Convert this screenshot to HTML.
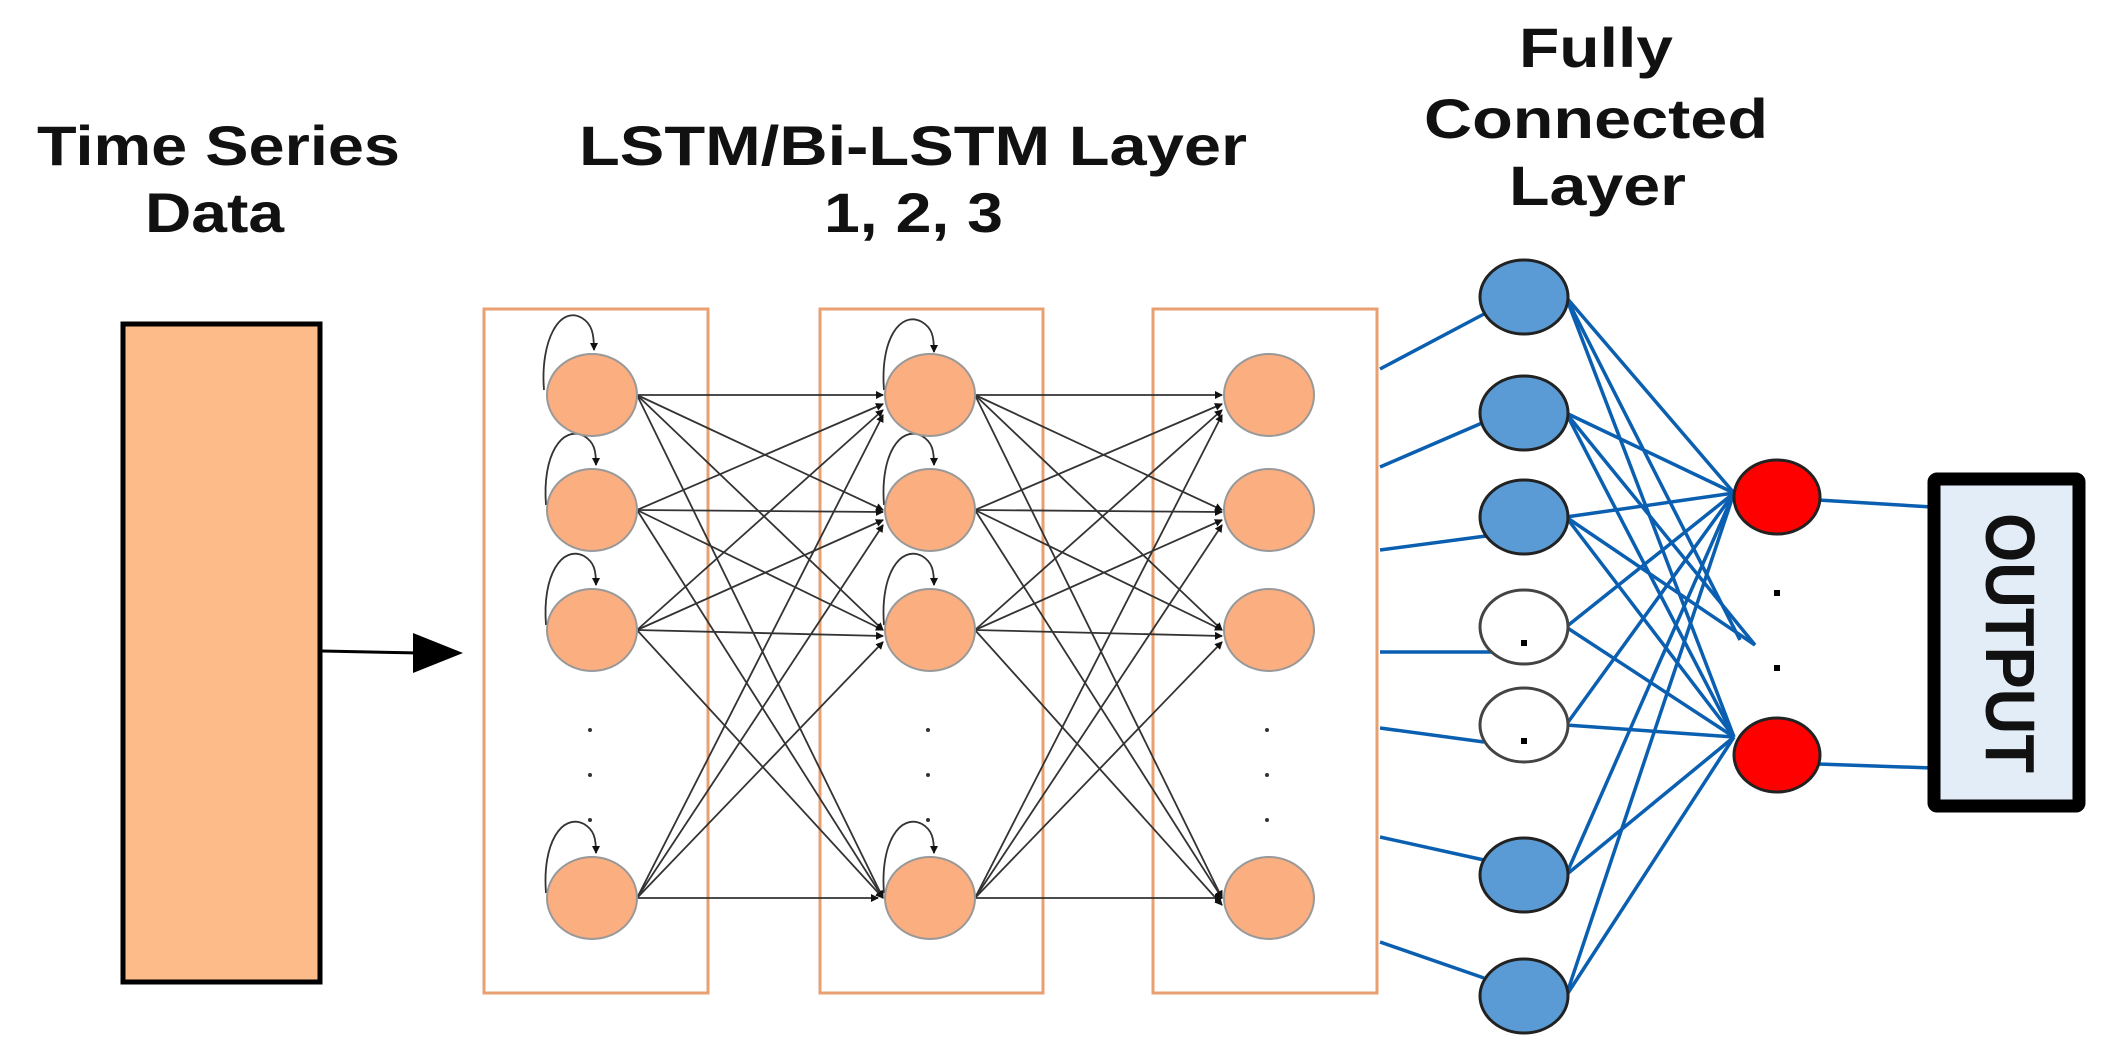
<!DOCTYPE html>
<html><head><meta charset="utf-8"><style>html,body{margin:0;padding:0;background:#fff}svg{display:block}</style></head>
<body>
<svg width="2110" height="1059" viewBox="0 0 2110 1059" xmlns="http://www.w3.org/2000/svg">
<defs>
<marker id="ah" markerWidth="8" markerHeight="8" refX="7" refY="4" orient="auto" markerUnits="userSpaceOnUse"><path d="M0,0 L8,4 L0,8 z" fill="#111"/></marker>
</defs>
<g font-family="Liberation Sans, Arial, sans-serif" font-weight="bold" fill="#111" font-size="56">
<text x="37" y="165" textLength="363" lengthAdjust="spacingAndGlyphs">Time Series</text>
<text x="145" y="232" textLength="139" lengthAdjust="spacingAndGlyphs">Data</text>
<text x="579" y="165" textLength="668" lengthAdjust="spacingAndGlyphs">LSTM/Bi-LSTM Layer</text>
<text x="824" y="232" textLength="179" lengthAdjust="spacingAndGlyphs">1, 2, 3</text>
<text x="1519" y="67" textLength="154" lengthAdjust="spacingAndGlyphs">Fully</text>
<text x="1424" y="138" textLength="344" lengthAdjust="spacingAndGlyphs">Connected</text>
<text x="1509" y="205" textLength="177" lengthAdjust="spacingAndGlyphs">Layer</text>
</g>
<!-- input -->
<rect x="123" y="324" width="197" height="658" fill="#fdbb8a" stroke="#000" stroke-width="5"/>
<line x1="322" y1="651" x2="420" y2="653" stroke="#000" stroke-width="3"/>
<polygon points="413,633 463,653 413,673" fill="#000"/>
<!-- LSTM boxes -->
<g fill="none" stroke="#e8a070" stroke-width="3">
<rect x="484" y="309" width="224" height="684"/>
<rect x="820" y="309" width="223" height="684"/>
<rect x="1153" y="309" width="224" height="684"/>
</g>
<!-- connections -->
<g stroke="#333" stroke-width="1.8" marker-end="url(#ah)">
<line x1="637" y1="395" x2="883" y2="395"/><line x1="637" y1="395" x2="883" y2="510"/><line x1="637" y1="395" x2="883" y2="630"/><line x1="637" y1="395" x2="883" y2="898"/>
<line x1="637" y1="510" x2="883" y2="404"/><line x1="637" y1="510" x2="883" y2="512"/><line x1="637" y1="510" x2="883" y2="630"/><line x1="637" y1="510" x2="883" y2="898"/>
<line x1="637" y1="630" x2="883" y2="410"/><line x1="637" y1="630" x2="883" y2="520"/><line x1="637" y1="630" x2="883" y2="636"/><line x1="637" y1="630" x2="883" y2="898"/>
<line x1="637" y1="898" x2="883" y2="415"/><line x1="637" y1="898" x2="883" y2="525"/><line x1="637" y1="898" x2="883" y2="642"/><line x1="637" y1="898" x2="878" y2="898"/>
<line x1="975" y1="395" x2="1222" y2="395"/><line x1="975" y1="395" x2="1222" y2="510"/><line x1="975" y1="395" x2="1222" y2="630"/><line x1="975" y1="395" x2="1222" y2="898"/>
<line x1="975" y1="510" x2="1222" y2="404"/><line x1="975" y1="510" x2="1222" y2="512"/><line x1="975" y1="510" x2="1222" y2="630"/><line x1="975" y1="510" x2="1222" y2="898"/>
<line x1="975" y1="630" x2="1222" y2="410"/><line x1="975" y1="630" x2="1222" y2="520"/><line x1="975" y1="630" x2="1222" y2="636"/><line x1="975" y1="630" x2="1222" y2="905"/>
<line x1="975" y1="898" x2="1222" y2="415"/><line x1="975" y1="898" x2="1222" y2="525"/><line x1="975" y1="898" x2="1222" y2="642"/><line x1="975" y1="898" x2="1222" y2="898"/>
</g>
<g fill="none" stroke="#333" stroke-width="1.8" marker-end="url(#ah)">
<path d="M544,390 C540,340 560,305 582,318 C592,324 594,334 594,350"/>
<path d="M546,505 C542,455 562,425 584,436 C594,442 596,450 596,465"/>
<path d="M546,625 C542,575 562,545 584,556 C594,562 596,570 596,585"/>
<path d="M546,893 C542,843 562,813 584,824 C594,830 596,838 596,853"/>
<path d="M884,390 C880,340 900,310 922,322 C932,328 934,336 934,352"/>
<path d="M884,505 C880,455 900,425 922,436 C932,442 934,450 934,465"/>
<path d="M884,625 C880,575 900,545 922,556 C932,562 934,570 934,585"/>
<path d="M884,893 C880,843 900,813 922,824 C932,830 934,838 934,853"/>
</g>
<!-- LSTM nodes -->
<g fill="#fbae7f" stroke="#999" stroke-width="2">
<ellipse cx="592" cy="395" rx="45" ry="41"/><ellipse cx="592" cy="510" rx="45" ry="41"/><ellipse cx="592" cy="630" rx="45" ry="41"/><ellipse cx="592" cy="898" rx="45" ry="41"/>
<ellipse cx="930" cy="395" rx="45" ry="41"/><ellipse cx="930" cy="510" rx="45" ry="41"/><ellipse cx="930" cy="630" rx="45" ry="41"/><ellipse cx="930" cy="898" rx="45" ry="41"/>
<ellipse cx="1269" cy="395" rx="45" ry="41"/><ellipse cx="1269" cy="510" rx="45" ry="41"/><ellipse cx="1269" cy="630" rx="45" ry="41"/><ellipse cx="1269" cy="898" rx="45" ry="41"/>
</g>
<g fill="#333">
<circle cx="590" cy="730" r="2"/><circle cx="590" cy="775" r="2"/><circle cx="590" cy="820" r="2"/>
<circle cx="928" cy="730" r="2"/><circle cx="928" cy="775" r="2"/><circle cx="928" cy="820" r="2"/>
<circle cx="1267" cy="730" r="2"/><circle cx="1267" cy="775" r="2"/><circle cx="1267" cy="820" r="2"/>
</g>
<!-- FC lines -->
<g stroke="#0a5fb0" stroke-width="3.5" fill="none">
<line x1="1380" y1="369" x2="1484" y2="314"/>
<line x1="1380" y1="467" x2="1482" y2="423"/>
<line x1="1380" y1="550" x2="1486" y2="536"/>
<line x1="1380" y1="652" x2="1492" y2="652"/>
<line x1="1380" y1="728" x2="1484" y2="742"/>
<line x1="1380" y1="837" x2="1484" y2="860"/>
<line x1="1380" y1="942" x2="1484" y2="978"/>
<g id="fc">
<line x1="1566" y1="297" x2="1734" y2="493"/><line x1="1566" y1="297" x2="1734" y2="737"/>
<line x1="1566" y1="413" x2="1734" y2="493"/><line x1="1566" y1="413" x2="1734" y2="737"/>
<line x1="1566" y1="517" x2="1734" y2="493"/><line x1="1566" y1="517" x2="1734" y2="737"/>
<line x1="1566" y1="627" x2="1734" y2="493"/><line x1="1566" y1="627" x2="1734" y2="737"/>
<line x1="1566" y1="725" x2="1734" y2="493"/><line x1="1566" y1="725" x2="1734" y2="737"/>
<line x1="1566" y1="875" x2="1734" y2="493"/><line x1="1566" y1="875" x2="1734" y2="737"/>
<line x1="1566" y1="996" x2="1734" y2="493"/><line x1="1566" y1="996" x2="1734" y2="737"/>
<line x1="1566" y1="297" x2="1740" y2="640"/><line x1="1566" y1="413" x2="1755" y2="645"/><line x1="1566" y1="517" x2="1755" y2="645"/>
</g>
<line x1="1818" y1="500" x2="1932" y2="507"/>
<line x1="1818" y1="764" x2="1932" y2="768"/>
</g>
<!-- FC nodes -->
<g stroke="#222" stroke-width="3">
<ellipse cx="1524" cy="297" rx="44" ry="37" fill="#5b9bd5"/>
<ellipse cx="1524" cy="413" rx="44" ry="37" fill="#5b9bd5"/>
<ellipse cx="1524" cy="517" rx="44" ry="37" fill="#5b9bd5"/>
<ellipse cx="1524" cy="627" rx="44" ry="37" fill="#fff" stroke="#444"/>
<ellipse cx="1524" cy="725" rx="44" ry="37" fill="#fff" stroke="#444"/>
<ellipse cx="1524" cy="875" rx="44" ry="37" fill="#5b9bd5"/>
<ellipse cx="1524" cy="996" rx="44" ry="37" fill="#5b9bd5"/>
<ellipse cx="1777" cy="497" rx="43" ry="37" fill="#f00"/>
<ellipse cx="1777" cy="755" rx="43" ry="37" fill="#f00"/>
</g>
<g fill="#000">
<rect x="1521" y="640" width="6" height="6"/><rect x="1521" y="738" width="6" height="6"/>
<rect x="1774" y="590" width="6" height="6"/><rect x="1774" y="665" width="6" height="6"/>
</g>
<!-- output -->
<rect x="1934" y="479" width="145" height="327" rx="3" fill="#e3edf8" stroke="#000" stroke-width="13"/>
<text x="0" y="0" transform="translate(1986,643) rotate(90)" text-anchor="middle" font-family="Liberation Sans, Arial, sans-serif" font-weight="bold" font-size="70" fill="#111" textLength="260" lengthAdjust="spacingAndGlyphs">OUTPUT</text>
</svg>
</body></html>
